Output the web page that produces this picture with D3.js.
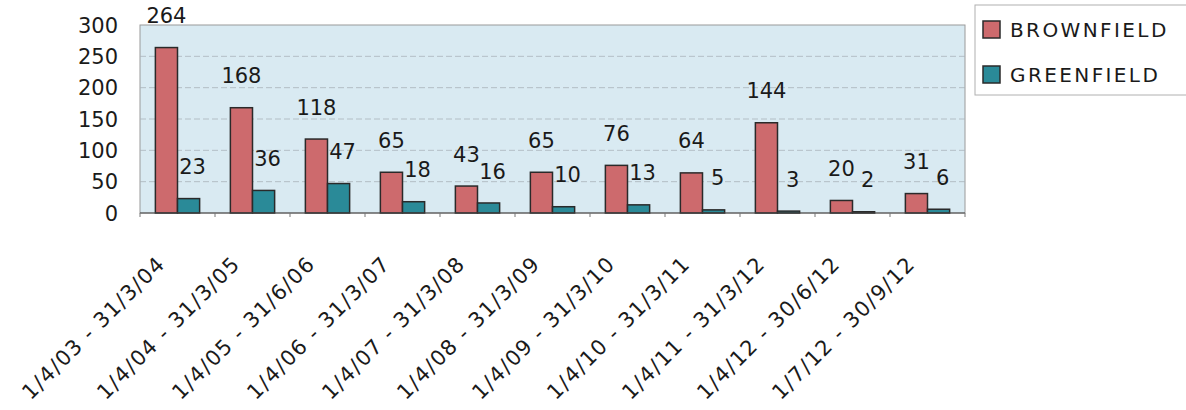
<!DOCTYPE html>
<html>
<head>
<meta charset="utf-8">
<script src="https://cdn.jsdelivr.net/npm/d3@7"></script>
<style>
  body { margin: 0; background: #fff; }
  text { font-family: "DejaVu Sans", sans-serif; fill: #1a1a1a; }
</style>
</head>
<body>
<div id="chart"></div>
<script>
// periods on the x axis
var periods = [
  "1/4/03 - 31/3/04",
  "1/4/04 - 31/3/05",
  "1/4/05 - 31/6/06",
  "1/4/06 - 31/3/07",
  "1/4/07 - 31/3/08",
  "1/4/08 - 31/3/09",
  "1/4/09 - 31/3/10",
  "1/4/10 - 31/3/11",
  "1/4/11 - 31/3/12",
  "1/4/12 - 30/6/12",
  "1/7/12 - 30/9/12"
];
var brownfield = [264, 168, 118, 65, 43, 65, 76, 64, 144, 20, 31];
var greenfield = [23, 36, 47, 18, 16, 10, 13, 5, 3, 2, 6];
var seriesNames = ["BROWNFIELD", "GREENFIELD"];
var yTicks = [0, 50, 100, 150, 200, 250, 300];

var width = 1186, height = 410;
var margin = { top: 25, left: 140, right: 221, bottom: 197 };
var plotW = width - margin.left - margin.right;
var plotH = height - margin.top - margin.bottom;
var colors = ["#cd6a6d", "#2a8a98"];

var svg = d3.select("#chart").append("svg")
  .attr("width", width)
  .attr("height", height);

var g = svg.append("g")
  .attr("transform", "translate(" + margin.left + "," + margin.top + ")");

var x = d3.scaleBand().domain(periods).range([0, plotW]).paddingInner(0.41).paddingOuter(0.205);
var xSub = d3.scaleBand().domain(seriesNames).range([0, x.bandwidth()]);
var y = d3.scaleLinear().domain([0, 300]).range([plotH, 0]);

// plot background
g.append("rect")
  .attr("width", plotW)
  .attr("height", plotH)
  .attr("fill", "#d9eaf2")
  .attr("stroke", "#9a9a9a")
  .attr("stroke-width", 1);

// gridlines
g.selectAll(".grid")
  .data(yTicks.filter(function (d) { return d > 0 && d < 300; }))
  .enter().append("line")
  .attr("x1", 0).attr("x2", plotW)
  .attr("y1", function (d) { return y(d); })
  .attr("y2", function (d) { return y(d); })
  .attr("stroke", "#a9b4ba")
  .attr("stroke-dasharray", "6,3")
  .attr("stroke-width", 0.8);

// y axis labels
g.selectAll(".ylab")
  .data(yTicks)
  .enter().append("text")
  .attr("x", -22)
  .attr("y", function (d) { return y(d); })
  .attr("dy", "0.36em")
  .attr("text-anchor", "end")
  .style("font-size", "21px")
  .text(function (d) { return d; });

// bars
var groups = g.selectAll(".period")
  .data(periods)
  .enter().append("g")
  .attr("transform", function (d) { return "translate(" + x(d) + ",0)"; });

groups.selectAll("rect")
  .data(function (d, i) {
    return [
      { name: seriesNames[0], value: brownfield[i], c: 0 },
      { name: seriesNames[1], value: greenfield[i], c: 1 }
    ];
  })
  .enter().append("rect")
  .attr("x", function (d) { return xSub(d.name); })
  .attr("y", function (d) { return y(d.value); })
  .attr("width", xSub.bandwidth())
  .attr("height", function (d) { return plotH - y(d.value); })
  .attr("fill", function (d) { return colors[d.c]; })
  .attr("stroke", "#2a2a2a")
  .attr("stroke-width", 1.5);

// data labels
groups.selectAll(".lbl")
  .data(function (d, i) {
    return [
      { name: seriesNames[0], value: brownfield[i], shift: 0 },
      { name: seriesNames[1], value: greenfield[i], shift: 4 }
    ];
  })
  .enter().append("text")
  .attr("x", function (d) { return xSub(d.name) + xSub.bandwidth() / 2 + d.shift; })
  .attr("y", function (d) { return y(d.value) - 32; })
  .attr("dy", "0.36em")
  .attr("text-anchor", "middle")
  .style("font-size", "21px")
  .text(function (d) { return d.value; });

// x axis line and ticks
g.append("line")
  .attr("x1", 0).attr("x2", plotW)
  .attr("y1", plotH).attr("y2", plotH)
  .attr("stroke", "#444")
  .attr("stroke-width", 1.2);

g.selectAll(".xtick")
  .data(d3.range(periods.length + 1))
  .enter().append("line")
  .attr("x1", function (i) { return i * x.step(); })
  .attr("x2", function (i) { return i * x.step(); })
  .attr("y1", plotH).attr("y2", plotH + 4)
  .attr("stroke", "#777");

// rotated category labels
g.selectAll(".xlab")
  .data(periods)
  .enter().append("text")
  .attr("transform", function (d) {
    return "translate(" + (x(d) + x.bandwidth() / 2 - 11) + "," + (plotH + 52) + ") rotate(-45)";
  })
  .attr("text-anchor", "end")
  .style("font-size", "21px")
  .style("letter-spacing", "1.4px")
  .text(function (d) { return d; });

// legend
var legend = svg.append("g").attr("transform", "translate(975,5)");
legend.append("rect")
  .attr("width", 220)
  .attr("height", 90)
  .attr("fill", "#fff")
  .attr("stroke", "#b0b0b0");

var items = legend.selectAll(".item")
  .data(seriesNames)
  .enter().append("g")
  .attr("transform", function (d, i) { return "translate(8," + (16 + i * 45) + ")"; });

items.append("rect")
  .attr("width", 17)
  .attr("height", 17)
  .attr("fill", function (d, i) { return colors[i]; })
  .attr("stroke", "#2a2a2a")
  .attr("stroke-width", 1.5);

items.append("text")
  .attr("x", 27)
  .attr("y", 9)
  .attr("dy", "0.36em")
  .style("font-size", "20px")
  .style("letter-spacing", "2.4px")
  .text(function (d) { return d; });
</script>
</body>
</html>
